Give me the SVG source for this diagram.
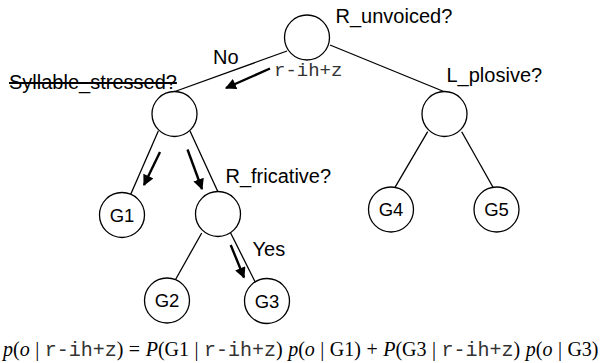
<svg xmlns="http://www.w3.org/2000/svg" width="600" height="363" viewBox="0 0 600 363">
<defs>
<marker id="ah" viewBox="0 0 10 10" refX="9" refY="5" markerWidth="4.8" markerHeight="4.6" markerUnits="strokeWidth" orient="auto">
<path d="M0,0 L10,5 L0,10 z" fill="#000"/>
</marker>
<style>
.node circle{fill:#fff;stroke:#000;stroke-width:1.3}
.edge{stroke:#000;stroke-width:1.3;fill:none}
.arrow{stroke:#000;stroke-width:2.4;fill:none;marker-end:url(#ah)}
.lbl{font-family:"Liberation Sans",Arial,sans-serif;font-size:20px;fill:#000}
.g{font-family:"Liberation Sans",Arial,sans-serif;font-size:18.5px;fill:#000;text-anchor:middle}
.mono{font-family:"Liberation Mono","Courier New",monospace;fill:#333}
.f{font-family:"Liberation Serif","Times New Roman",serif;font-size:20px;fill:#000;word-spacing:0.5px}
.it{font-style:italic}
</style>
</defs>
<g id="connectors">
<line class="edge" x1="287" y1="51" x2="173.5" y2="92"/>
<line class="edge" x1="330" y1="45" x2="445" y2="92"/>
<line class="edge" x1="158.3" y1="131" x2="130" y2="196"/>
<line class="edge" x1="190" y1="131" x2="218" y2="192"/>
<line class="edge" x1="201.7" y1="233" x2="175.7" y2="279.3"/>
<line class="edge" x1="230" y1="231.7" x2="255.7" y2="283"/>
<line class="edge" x1="427.7" y1="131.7" x2="395" y2="187.3"/>
<line class="edge" x1="461.7" y1="131.7" x2="493" y2="187.3"/>
<line class="arrow" x1="270" y1="68.5" x2="226" y2="88"/>
<line class="arrow" x1="160" y1="152" x2="144" y2="185"/>
<line class="arrow" x1="187.5" y1="149.5" x2="202" y2="189"/>
<line class="arrow" x1="230.7" y1="245" x2="244" y2="277.5"/>
</g>
<g id="root" class="node"><circle cx="307" cy="37.5" r="22.5"/><text class="lbl" x="335.5" y="23">R_unvoiced?</text></g>
<g id="syllable" class="node"><circle cx="174.5" cy="114" r="22.5"/><text class="lbl" x="9" y="89" text-decoration="line-through">Syllable_stressed?</text></g>
<g id="plosive" class="node"><circle cx="444.5" cy="114" r="22.5"/><text class="lbl" x="446.5" y="81.5">L_plosive?</text></g>
<g id="fricative" class="node"><circle cx="218" cy="214" r="22.5"/><text class="lbl" x="225.5" y="183">R_fricative?</text></g>
<g id="G1" class="node"><circle cx="122" cy="215" r="22.5"/><text class="g" x="122" y="221.5">G1</text></g>
<g id="G2" class="node"><circle cx="167" cy="300.5" r="22.5"/><text class="g" x="167" y="307">G2</text></g>
<g id="G3" class="node"><circle cx="267" cy="301" r="22.5"/><text class="g" x="267" y="307.5">G3</text></g>
<g id="G4" class="node"><circle cx="391" cy="209.5" r="22.5"/><text class="g" x="391" y="216">G4</text></g>
<g id="G5" class="node"><circle cx="496.5" cy="209.5" r="22.5"/><text class="g" x="496.5" y="216">G5</text></g>
<text class="lbl" x="213" y="64">No</text>
<text class="lbl mono" x="274" y="76" style="font-size:19px">r-ih+z</text>
<text class="lbl" x="252.5" y="256">Yes</text>
<text class="f" x="3" y="356"><tspan class="it">p</tspan>(<tspan class="it">o</tspan> | <tspan class="mono">r-ih+z</tspan>) = <tspan class="it">P</tspan>(G1 | <tspan class="mono">r-ih+z</tspan>) <tspan class="it">p</tspan>(<tspan class="it">o</tspan> | G1) + <tspan class="it">P</tspan>(G3 | <tspan class="mono">r-ih+z</tspan>) <tspan class="it">p</tspan>(<tspan class="it">o</tspan> | G3)</text>
</svg>
